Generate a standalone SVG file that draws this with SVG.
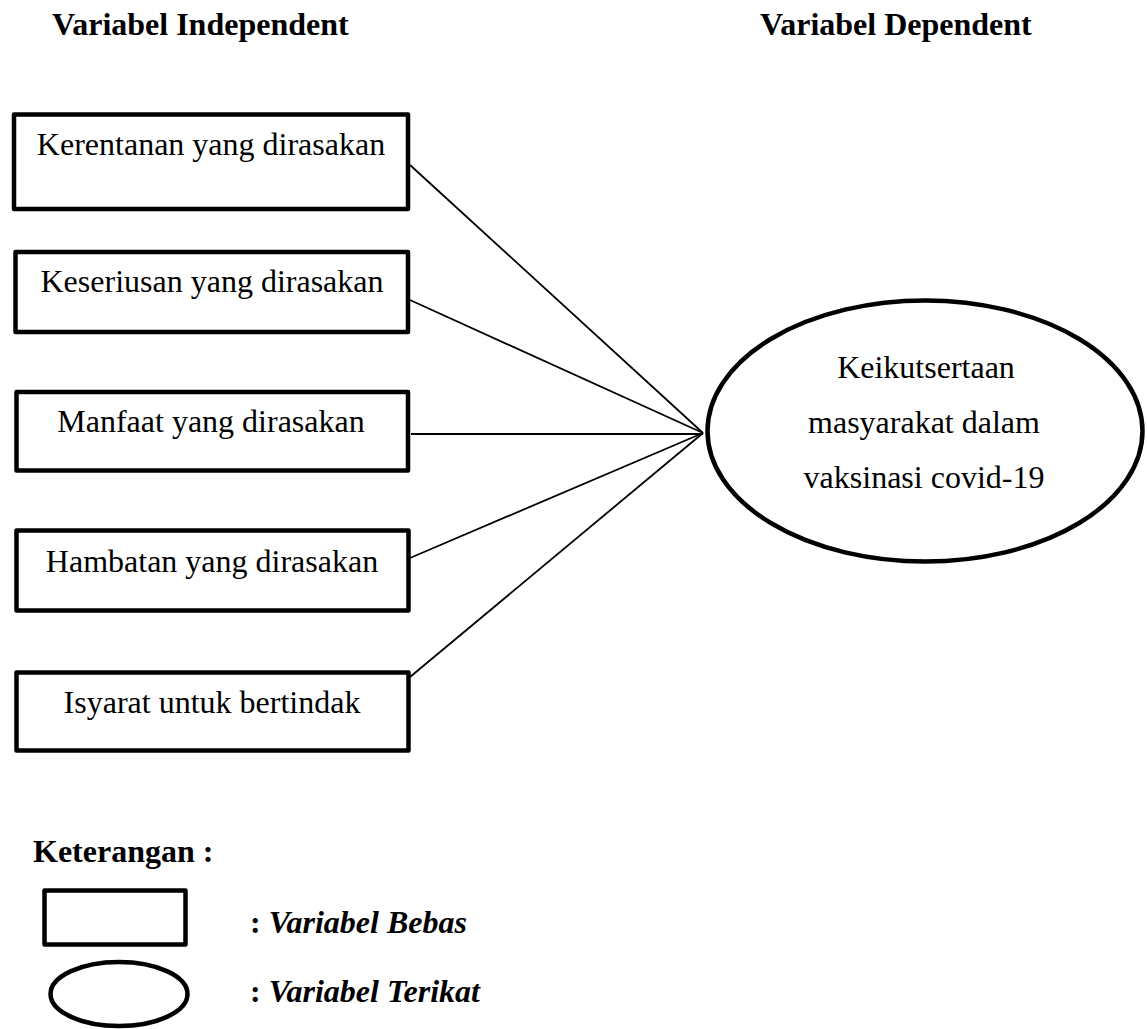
<svg xmlns="http://www.w3.org/2000/svg" width="1147" height="1029" viewBox="0 0 1147 1029">
<style>
.box{fill:#fff;stroke:#000;stroke-width:4.5;stroke-linejoin:round}
.conn{stroke:#000;stroke-width:1.8;fill:none}
.t{font-family:"Liberation Serif","Times New Roman",serif;font-size:32px;fill:#000}
.c{text-anchor:middle}
.b{font-weight:bold}
.bi{font-weight:bold;font-style:italic}
</style>
<rect width="1147" height="1029" fill="#fff"/>
<g id="headers">
<text class="t b" x="52" y="35" font-size="31.8">Variabel Independent</text>
<text class="t b" x="760" y="35" font-size="31.8">Variabel Dependent</text>
</g>
<g id="connectors">
<line class="conn" x1="410" y1="165" x2="703" y2="433"/>
<line class="conn" x1="410" y1="300" x2="703" y2="433"/>
<line class="conn" x1="411" y1="434" x2="703" y2="434"/>
<line class="conn" x1="410" y1="558" x2="703" y2="433"/>
<line class="conn" x1="410" y1="677" x2="703" y2="433"/>
</g>
<g id="node1">
<rect class="box" x="14" y="114.5" width="394" height="94.5"/>
<text class="t c" x="211" y="155">Kerentanan yang dirasakan</text>
</g>
<g id="node2">
<rect class="box" x="15.5" y="252" width="392.5" height="80"/>
<text class="t c" x="212" y="292">Keseriusan yang dirasakan</text>
</g>
<g id="node3">
<rect class="box" x="16.5" y="392" width="391.5" height="78.5"/>
<text class="t c" x="211" y="432">Manfaat yang dirasakan</text>
</g>
<g id="node4">
<rect class="box" x="16.5" y="530.5" width="392" height="80"/>
<text class="t c" x="212" y="572">Hambatan yang dirasakan</text>
</g>
<g id="node5">
<rect class="box" x="16.5" y="672.5" width="392" height="78"/>
<text class="t c" x="212" y="713">Isyarat untuk bertindak</text>
</g>
<g id="node6">
<ellipse class="box" cx="925" cy="431" rx="217.5" ry="130.5"/>
<text class="t c" x="926" y="378">Keikutsertaan</text>
<text class="t c" x="924" y="433">masyarakat dalam</text>
<text class="t c" x="924" y="488">vaksinasi covid-19</text>
</g>
<g id="legend">
<text class="t b" x="33" y="862" font-size="31.5">Keterangan :</text>
<rect class="box" x="44.5" y="890.5" width="141" height="54"/>
<ellipse class="box" cx="119" cy="994" rx="68.5" ry="32"/>
<text class="t" x="250" y="933" font-size="30.5"><tspan class="b">: </tspan><tspan class="bi">Variabel Bebas</tspan></text>
<text class="t" x="250" y="1002" font-size="30.5"><tspan class="b">: </tspan><tspan class="bi">Variabel Terikat</tspan></text>
</g>
</svg>
